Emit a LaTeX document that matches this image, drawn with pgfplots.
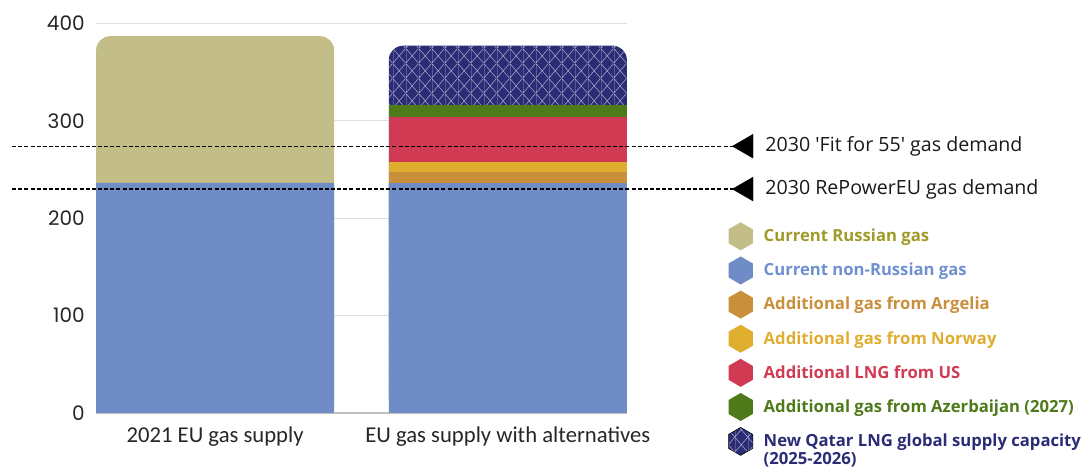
\documentclass[border=0pt]{standalone}
\usepackage{fontspec}
\setmainfont{Open Sans}
\newfontfamily\tickfont{Poppins}
\newfontfamily\catfont{Carlito}
\usepackage{pgfplots}
\pgfplotsset{compat=1.18}
\usetikzlibrary{shapes.geometric,patterns.meta}

\definecolor{cRus}{HTML}{C3BD87}
\definecolor{cNon}{HTML}{6F8CC6}
\definecolor{cArg}{HTML}{C98F3A}
\definecolor{cNor}{HTML}{E0AE2F}
\definecolor{cUS}{HTML}{D03A52}
\definecolor{cAze}{HTML}{4E7A1A}
\definecolor{cQat}{HTML}{2A2C75}
\definecolor{tRus}{HTML}{A09A28}
\definecolor{tNon}{HTML}{6F90D0}

\pgfdeclarepattern{
  name=trilattice,
  type=uncolored,
  bottom left={\pgfpoint{0pt}{0pt}},
  top right={\pgfpoint{9.5pt}{11pt}},
  tile size={\pgfpoint{9.5pt}{11pt}},
  code={
    \pgfsetlinewidth{0.4pt}
    \pgfpathmoveto{\pgfpoint{0pt}{0pt}}\pgfpathlineto{\pgfpoint{0pt}{11pt}}
    \pgfpathmoveto{\pgfpoint{0pt}{0pt}}\pgfpathlineto{\pgfpoint{9.5pt}{11pt}}
    \pgfpathmoveto{\pgfpoint{0pt}{11pt}}\pgfpathlineto{\pgfpoint{9.5pt}{0pt}}
    \pgfusepath{stroke}
  }
}

\tikzset{
  hexk/.style={regular polygon, regular polygon sides=6, shape border rotate=30,
    minimum size=21pt, inner sep=0pt, draw=none},
}

\begin{document}
\begin{tikzpicture}
\useasboundingbox (-72pt,-40.5pt) rectangle (739.5pt,309.75pt);
\begin{axis}[
  at={(0pt,0pt)}, anchor=south west,
  scale only axis, width=398.25pt, height=292.1pt,
  xmin=-0.407, xmax=1.407, ymin=0, ymax=400,
  ybar, bar width=178.5pt, bar shift=0pt,
  clip=false,
  axis lines=left,
  x axis line style={draw=black!25, line width=0.9pt, -},
  y axis line style={draw=none},
  major tick length=0pt,
  ytick={0,100,200,300,400},
  ymajorgrids, major grid style={draw=black!13, line width=0.8pt},
  xtick={0,1},
  xticklabels={2021 EU gas supply, EU gas supply with alternatives},
  xticklabel style={font=\catfont\fontsize{17}{19}\selectfont, text=black!85, yshift=-7pt},
  yticklabel style={font=\tickfont\fontsize{15}{17}\selectfont, text=black!85, xshift=-5pt},
  /pgf/number format/assume math mode=true,
  legend style={at={(axis cs:1.752,196.1)}, anchor=north west, draw=none, fill=none,
    inner sep=0pt, row sep=4.6pt, column sep=8pt,
    font=\bfseries\fontsize{12.5}{14.5}\selectfont,
    nodes={inner sep=0pt, align=left}},
  legend cell align=left,
]
% tallest segment first, rounded top
\addplot[fill=cRus, draw=none, bar shift=0pt, rounded corners=10.5pt, forget plot]
  coordinates {(0,387)};
\addplot[fill=cQat, draw=none, bar shift=0pt, rounded corners=10.5pt, forget plot,
  postaction={pattern=trilattice, pattern color=white!60!cQat}]
  coordinates {(1,377.2)};
% cumulative tops of the stacked segments in bar 2
\addplot[fill=cAze, draw=none, bar shift=0pt, forget plot] coordinates {(1,316)};
\addplot[fill=cUS, draw=none, bar shift=0pt, forget plot] coordinates {(1,303.6)};
\addplot[fill=cNor, draw=none, bar shift=0pt, forget plot] coordinates {(1,257.7)};
\addplot[fill=cArg, draw=none, bar shift=0pt, forget plot] coordinates {(1,247.4)};
\addplot[fill=cNon, draw=none, bar shift=0pt, forget plot] coordinates {(0,236.4) (1,236)};

% 2030 demand lines
\addplot[sharp plot, black, line width=1pt, dash pattern=on 3pt off 1.6pt, forget plot,
  mark=triangle*, mark indices={2}, mark size=10.4pt,
  mark options={solid, rotate=90, fill=black, draw=black, line width=0.1pt}]
  coordinates {(-0.6935,274) (1.8138,274)};
\addplot[sharp plot, black, line width=1pt, dash pattern=on 3pt off 1.6pt, forget plot,
  mark=triangle*, mark indices={2}, mark size=10.4pt,
  mark options={solid, rotate=90, fill=black, draw=black, line width=0.1pt}]
  coordinates {(-0.6935,230) (1.8138,230)};
\node[anchor=west, font=\fontsize{14.7}{17}\selectfont, text=black!90, inner sep=0pt]
  at (axis cs:1.879,274) {2030 \textquotesingle Fit for 55\textquotesingle\ gas demand};
\node[anchor=west, font=\fontsize{14.7}{17}\selectfont, text=black!90, inner sep=0pt]
  at (axis cs:1.879,230) {2030 RePowerEU gas demand};

% legend
\addlegendimage{legend image code/.code={\node[hexk, fill=cRus] at (9.1pt,0pt) {};}}
\addlegendentry{\textcolor{tRus}{Current Russian gas}}
\addlegendimage{legend image code/.code={\node[hexk, fill=cNon] at (9.1pt,0pt) {};}}
\addlegendentry{\textcolor{tNon}{Current non-Russian gas}}
\addlegendimage{legend image code/.code={\node[hexk, fill=cArg] at (9.1pt,0pt) {};}}
\addlegendentry{\textcolor{cArg}{Additional gas from Argelia}}
\addlegendimage{legend image code/.code={\node[hexk, fill=cNor] at (9.1pt,0pt) {};}}
\addlegendentry{\textcolor{cNor}{Additional gas from Norway}}
\addlegendimage{legend image code/.code={\node[hexk, fill=cUS] at (9.1pt,0pt) {};}}
\addlegendentry{\textcolor{cUS}{Additional LNG from US}}
\addlegendimage{legend image code/.code={\node[hexk, fill=cAze] at (9.1pt,0pt) {};}}
\addlegendentry{\textcolor{cAze}{Additional gas from Azerbaijan (2027)}}
\addlegendimage{legend image code/.code={\node[hexk, fill=cQat,
  postaction={pattern=trilattice, pattern color=white!60!cQat}] at (9.1pt,0pt) {};}}
\addlegendentry{\textcolor{cQat}{\rlap{\raisebox{-13pt}[0pt][0pt]{(2025-2026)}}New Qatar LNG global supply capacity}}
\end{axis}
\end{tikzpicture}
\end{document}
